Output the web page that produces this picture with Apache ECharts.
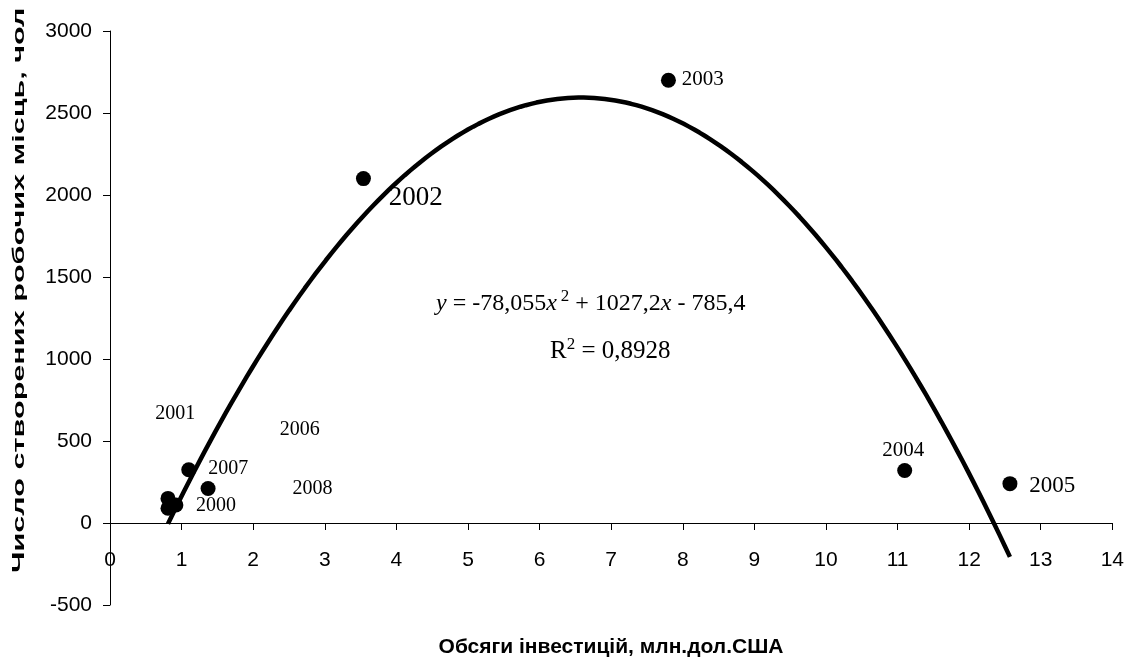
<!DOCTYPE html>
<html>
<head>
<meta charset="utf-8">
<script src="https://cdn.jsdelivr.net/npm/echarts@6/dist/echarts.min.js"></script>
<style>
  html, body { margin: 0; padding: 0; background: #fff; }
  #chart { width: 1127px; height: 663px; }
</style>
</head>
<body>
<div id="chart"></div>
<script>
// Investment volume (mln USD) vs. number of jobs created, by year
const years = ['2000', '2001', '2002', '2003', '2004', '2005', '2006', '2007', '2008'];
const investment = [0.92, 0.81, 3.54, 7.80, 11.10, 12.57, 1.37, 1.10, 0.81];
const jobs = [110, 150, 2100, 2700, 320, 240, 210, 325, 90];

// Quadratic trend: y = a*x^2 + b*x + c, R^2
const trendA = -78.055;
const trendB = 1027.2;
const trendC = -785.4;
const rSquared = '0,8928';

const xTicks = { min: 0, max: 14, step: 1 };
const yTicks = { min: -500, max: 3000, step: 500 };

const xTitle = 'Обсяги інвестицій, млн.дол.США';
const yTitle = 'Число створених робочих місць, чол';

// where each year's caption sits (data units) and its font size
const captionSpots = {
  '2000': [1.48, 104, 20],
  '2001': [0.91, 665, 20],
  '2002': [4.27, 1985, 27],
  '2003': [8.28, 2705, 21],
  '2004': [11.08, 440, 21],
  '2005': [13.16, 226, 23],
  '2006': [2.65, 567, 20],
  '2007': [1.65, 329, 20],
  '2008': [2.83, 207, 20]
};

const points = years.map((y, i) => [investment[i], jobs[i]]);

// trend line sampled over the range of the observed investment values
const xMin = Math.min(...investment);
const xMax = Math.max(...investment);
const trend = [];
const steps = 160;
for (let k = 0; k <= steps; k++) {
  const x = xMin + (xMax - xMin) * k / steps;
  trend.push([x, trendA * x * x + trendB * x + trendC]);
}

const captions = years.map(y => ({
  value: [captionSpots[y][0], captionSpots[y][1]],
  label: { formatter: y, fontSize: captionSpots[y][2] }
}));

const fmt = (v, d) => String(v).replace('.', ',');
const equationText = '{i|y} = ' + fmt(trendA) + '{i|x}{s|2} + ' + fmt(trendB) + '{i|x} - ' + fmt(-trendC);

const chart = echarts.init(document.getElementById('chart'), null, { renderer: 'canvas' });
const serif = '"Liberation Serif", "Times New Roman", serif';
const sans = '"Liberation Sans", Arial, sans-serif';

// plot area: y = 0 sits 82px above the bottom edge (500 of 3500 units over 574px)
const gridTop = 31, gridBottom = 58;
const plotH = 663 - gridTop - gridBottom;
const zeroOffset = -plotH * (0 - yTicks.min) / (yTicks.max - yTicks.min);

chart.setOption({
  animation: false,
  backgroundColor: '#ffffff',
  grid: { left: 110, right: 14, top: gridTop, bottom: gridBottom, containLabel: false },
  xAxis: {
    type: 'value',
    min: xTicks.min, max: xTicks.max, interval: xTicks.step,
    offset: zeroOffset,
    axisLine: { onZero: false, lineStyle: { color: '#000', width: 1 } },
    axisTick: { show: true, inside: false, length: 7, lineStyle: { color: '#000' } },
    axisLabel: { color: '#000', fontFamily: sans, fontSize: 21, margin: 27 },
    splitLine: { show: false }
  },
  yAxis: {
    type: 'value',
    min: yTicks.min, max: yTicks.max, interval: yTicks.step,
    axisLine: { show: true, onZero: false, lineStyle: { color: '#000', width: 1 } },
    axisTick: { show: true, inside: false, length: 7, lineStyle: { color: '#000' } },
    axisLabel: { color: '#000', fontFamily: sans, fontSize: 21, margin: 18, formatter: v => String(v) },
    splitLine: { show: false }
  },
  series: [
    {
      type: 'line',
      data: trend,
      showSymbol: false,
      smooth: false,
      lineStyle: { color: '#000', width: 4.5 },
      z: 3
    },
    {
      type: 'scatter',
      data: points,
      symbol: 'circle',
      symbolSize: 15,
      itemStyle: { color: '#000', opacity: 1 },
      z: 4
    },
    {
      type: 'scatter',
      data: captions,
      symbolSize: 0,
      silent: true,
      itemStyle: { opacity: 1 },
      label: {
        show: true,
        position: 'inside',
        color: '#000',
        fontFamily: serif
      },
      z: 5
    }
  ],
  graphic: [
    {
      type: 'text',
      left: 436, top: 288,
      style: {
        text: equationText,
        fontFamily: serif, fontSize: 24, fill: '#000',
        rich: {
          i: { fontFamily: serif, fontSize: 24, fontStyle: 'italic' },
          s: { fontFamily: serif, fontSize: 17, verticalAlign: 'bottom', padding: [0, 0, 14, 4] }
        }
      }
    },
    {
      type: 'text',
      left: 550, top: 336,
      style: {
        text: 'R{s|2} = ' + rSquared,
        fontFamily: serif, fontSize: 25, fill: '#000',
        rich: {
          s: { fontFamily: serif, fontSize: 17, verticalAlign: 'bottom', padding: [0, 0, 14, 0] }
        }
      }
    },
    {
      type: 'text',
      x: 611, y: 647,
      style: {
        text: xTitle,
        fontFamily: sans, fontSize: 21, fontWeight: 'bold', fill: '#000',
        align: 'center', verticalAlign: 'middle'
      }
    },
    {
      type: 'text',
      x: 19, y: 573,
      rotation: Math.PI / 2,
      scaleX: 1.8,
      style: {
        text: yTitle,
        fontFamily: sans, fontSize: 17, fontWeight: 'bold', fill: '#000',
        align: 'left', verticalAlign: 'middle'
      }
    }
  ]
});
</script>
</body>
</html>
